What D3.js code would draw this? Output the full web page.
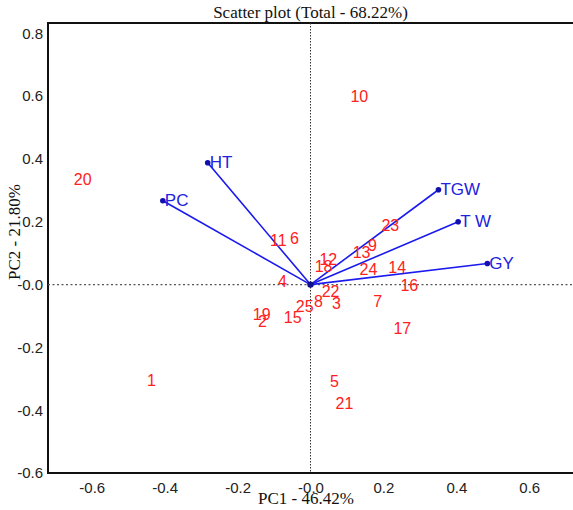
<!DOCTYPE html>
<html>
<head>
<meta charset="utf-8">
<script src="https://cdn.jsdelivr.net/npm/d3@7"></script>
<style>
  html, body { margin: 0; padding: 0; background: #fff; }
  svg { display: block; }
</style>
</head>
<body>
<svg id="chart" width="573" height="510"></svg>
<script>
// ---- data ----
const genotypes = ["1","2","3","4","5","6","7","8","9","10","11","12","13","14","15","16","17","18","19","20","21","22","23","24","25"];
const genoPC1 = [-0.436,-0.132,0.071,-0.077,0.066,-0.044,0.184,0.022,0.170,0.134,-0.088,0.049,0.140,0.238,-0.049,0.271,0.252,0.036,-0.134,-0.625,0.093,0.055,0.219,0.159,-0.016];
const genoPC2 = [-0.305,-0.118,-0.060,0.010,-0.308,0.146,-0.054,-0.054,0.124,0.598,0.140,0.079,0.102,0.054,-0.105,-0.003,-0.140,0.057,-0.095,0.334,-0.378,-0.022,0.188,0.048,-0.070];

const traits = ["HT","PC","TGW","T W","GY"];
const traitPC1 = [-0.282,-0.405,0.351,0.405,0.485];
const traitPC2 = [0.388,0.267,0.302,0.200,0.067];

const xTickValues = [-0.6,-0.4,-0.2,0,0.2,0.4,0.6];
const xTickLabels = ["-0.6","-0.4","-0.2","-0.0","0.2","0.4","0.6"];
const yTickValues = [-0.6,-0.4,-0.2,0,0.2,0.4,0.6,0.8];
const yTickLabels = ["-0.6","-0.4","-0.2","-0.0","0.2","0.4","0.6","0.8"];

const titleText = "Scatter plot (Total - 68.22%)";
const xLabel = "PC1 - 46.42%";
const yLabel = "PC2 - 21.80%";

// ---- layout ----
const svg = d3.select("#chart");
const L = 48, R = 573, T = 23, B = 473;
const x = d3.scaleLinear().domain([-0.72, 0.72]).range([L, R]);
const y = d3.scaleLinear().domain([-0.6, 0.833]).range([B, T]);

// frame (right side runs off the canvas)
svg.append("rect")
  .attr("x", L).attr("y", T)
  .attr("width", R - L + 10).attr("height", B - T)
  .attr("fill", "none").attr("stroke", "#111").attr("stroke-width", 2);

// dotted zero lines
svg.append("line")
  .attr("x1", x(0)).attr("x2", x(0)).attr("y1", T).attr("y2", B)
  .attr("stroke", "#333").attr("stroke-width", 1).attr("stroke-dasharray", "1.5,1.5");
svg.append("line")
  .attr("x1", L).attr("x2", R).attr("y1", y(0)).attr("y2", y(0))
  .attr("stroke", "#555").attr("stroke-width", 1.2).attr("stroke-dasharray", "2,2.5");

// axes
const xAxis = d3.axisBottom(x).tickValues(xTickValues)
  .tickFormat((d, i) => xTickLabels[i]).tickSize(0).tickPadding(9);
const gx = svg.append("g").attr("transform", `translate(0,${B})`).call(xAxis);
gx.select(".domain").remove();
gx.selectAll("text").attr("font-family", "Arial, 'Liberation Sans', sans-serif")
  .attr("font-size", 15).attr("fill", "#222");

const yAxis = d3.axisLeft(y).tickValues(yTickValues)
  .tickFormat((d, i) => yTickLabels[i]).tickSize(0).tickPadding(5);
const gy = svg.append("g").attr("transform", `translate(${L},0)`).call(yAxis);
gy.select(".domain").remove();
gy.selectAll("text").attr("font-family", "Arial, 'Liberation Sans', sans-serif")
  .attr("font-size", 15).attr("fill", "#222");

// titles
svg.append("text")
  .attr("x", x(0)).attr("y", 18)
  .attr("text-anchor", "middle")
  .attr("font-family", "'Liberation Serif', 'Times New Roman', serif")
  .attr("font-size", 17).attr("fill", "#111")
  .text(titleText);
svg.append("text")
  .attr("x", 306).attr("y", 504)
  .attr("text-anchor", "middle")
  .attr("font-family", "'Liberation Serif', 'Times New Roman', serif")
  .attr("font-size", 17).attr("fill", "#111")
  .text(xLabel);
svg.append("text")
  .attr("transform", "translate(20,232) rotate(-90)")
  .attr("text-anchor", "middle")
  .attr("font-family", "'Liberation Serif', 'Times New Roman', serif")
  .attr("font-size", 17).attr("fill", "#111")
  .text(yLabel);

// trait vectors
const traitData = traits.map((t, i) => ({ name: t, px: traitPC1[i], py: traitPC2[i] }));
svg.append("g").selectAll("line").data(traitData).join("line")
  .attr("x1", x(0)).attr("y1", y(0))
  .attr("x2", d => x(d.px)).attr("y2", d => y(d.py))
  .attr("stroke", "#1a1aee").attr("stroke-width", 1.6);
svg.append("g").selectAll("circle").data(traitData).join("circle")
  .attr("cx", d => x(d.px)).attr("cy", d => y(d.py)).attr("r", 2.8)
  .attr("fill", "#1010b0");
svg.append("circle").attr("cx", x(0)).attr("cy", y(0)).attr("r", 3.2).attr("fill", "#10108a");
svg.append("g").selectAll("text").data(traitData).join("text")
  .attr("x", d => x(d.px) + 2).attr("y", d => y(d.py))
  .attr("dominant-baseline", "central")
  .attr("font-family", "Arial, 'Liberation Sans', sans-serif")
  .attr("font-size", 17).attr("fill", "#2222dd")
  .text(d => d.name);

// genotype labels
const genoData = genotypes.map((g, i) => ({ name: g, px: genoPC1[i], py: genoPC2[i] }));
svg.append("g").selectAll("text").data(genoData).join("text")
  .attr("x", d => x(d.px)).attr("y", d => y(d.py))
  .attr("text-anchor", "middle").attr("dominant-baseline", "central")
  .attr("font-family", "Arial, 'Liberation Sans', sans-serif")
  .attr("font-size", 16).attr("fill", "#ff2020")
  .text(d => d.name);
</script>
</body>
</html>
